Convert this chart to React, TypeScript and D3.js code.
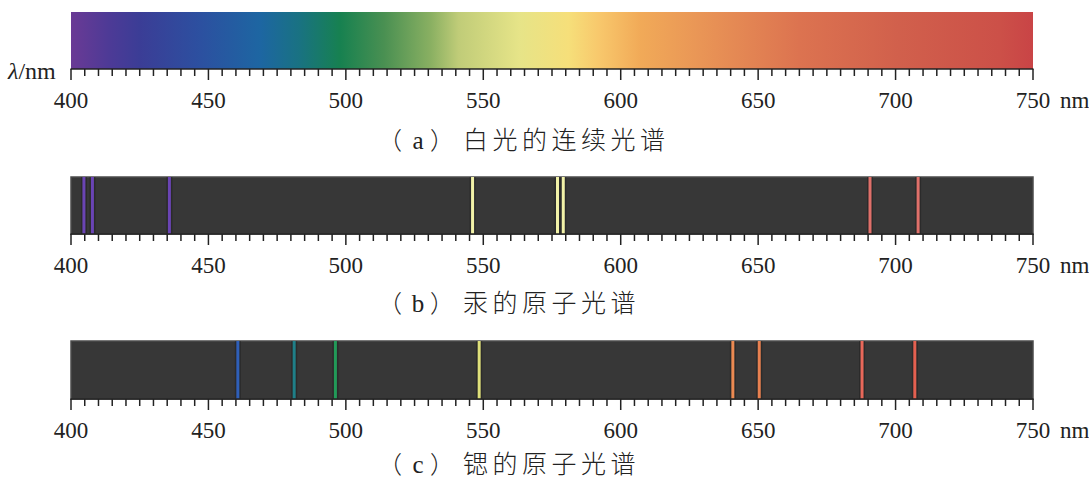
import React from "react";
import * as d3 from "d3";

const tickLabels = [400, 450, 500, 550, 600, 650, 700, 750];
const minorStep = 5;

// continuous spectrum colour stops (wavelength nm, colour)
const spectrumNm = [400, 414, 425, 447, 469, 483, 498, 514, 531, 541, 563, 581, 592, 607, 629, 665, 701, 738, 750];
const spectrumColors = ["#6a3a95", "#4d3a96", "#3b3d96", "#2c50a0", "#1d66a2", "#197282", "#178150", "#4a9052", "#8ab062", "#c0cc78", "#e6e488", "#f6df7a", "#f8c86c", "#f1aa58", "#e99556", "#dc7350", "#d1604c", "#cc5048", "#c94446"];

// mercury lines
const hgNm = [404.7, 407.8, 435.8, 546.1, 577.0, 579.1, 690.7, 708.2];
const hgColors = ["#6a44b4", "#6a44b4", "#6a44b4", "#f2f2a8", "#f2f2a8", "#f2f2a8", "#e0706a", "#e0706a"];

// strontium lines
const srNm = [460.7, 481.2, 496.2, 548.5, 640.8, 650.4, 687.8, 707.0];
const srColors = ["#2f5fb8", "#1f7f88", "#229a58", "#dfe07a", "#ec8a52", "#e88050", "#e8685a", "#e46050"];

const captionLetters = ["a", "b", "c"];
const captionTexts = ["白光的连续光谱", "汞的原子光谱", "锶的原子光谱"];

const W = 1089;
const H = 479;
const x = d3.scaleLinear().domain([400, 750]).range([71, 1033]);
const serif = "'Liberation Serif', 'Times New Roman', serif";
const cjk = "'Noto Sans CJK SC', sans-serif";

function Axis({ y }: { y: number }) {
  const minors = d3.range(400, 750 + 0.001, minorStep);
  return (
    <g>
      <line x1={x(400) - 0.5} x2={x(750) + 0.5} y1={y} y2={y} stroke="#222" strokeWidth={1.6} />
      {minors.map((v) => {
        const major = tickLabels.includes(v);
        return (
          <line key={v} x1={x(v)} x2={x(v)} y1={y} y2={y + (major ? 11 : 7)} stroke="#222" strokeWidth={1.5} />
        );
      })}
      {tickLabels.map((v) => (
        <text key={v} x={x(v)} y={y + 39} textAnchor="middle" fontFamily={serif} fontSize={23} fill="#222">
          {v}
        </text>
      ))}
      <text x={x(750) + 27} y={y + 39} fontFamily={serif} fontSize={23} fill="#222">nm</text>
    </g>
  );
}

function Caption({ y, i }: { y: number; i: number }) {
  return (
    <g fill="#222">
      <text x={378} y={y} fontFamily={cjk} fontSize={24} fontWeight={300}>（</text>
      <text x={418} y={y} fontFamily={serif} fontSize={25} textAnchor="middle">{captionLetters[i]}</text>
      <text x={430} y={y} fontFamily={cjk} fontSize={24} fontWeight={300}>）</text>
      <text x={463} y={y} fontFamily={cjk} fontSize={25} fontWeight={300} letterSpacing={4.5}>{captionTexts[i]}</text>
    </g>
  );
}

function LinePanel({ top, axisY, nm, colors, id }: { top: number; axisY: number; nm: number[]; colors: string[]; id: string }) {
  return (
    <g>
      <rect x={x(400)} y={top} width={x(750) - x(400)} height={axisY - top} fill="#373737" stroke="#4c4c4c" strokeWidth={1.5} />
      {nm.map((v, i) => (
        <g key={id + i}>
          <line x1={x(v)} x2={x(v)} y1={top} y2={axisY} stroke="#202020" strokeWidth={6} opacity={0.5} />
          <line x1={x(v)} x2={x(v)} y1={top} y2={axisY} stroke={colors[i]} strokeWidth={3} />
        </g>
      ))}
      <Axis y={axisY} />
    </g>
  );
}

export default function App() {
  const grad = spectrumNm.map((v, i) => ({ off: (v - 400) / 350, c: spectrumColors[i] }));
  return (
    <svg width={W} height={H} style={{ position: "absolute", left: 0, top: 0, background: "#fff" }}>
      <defs>
        <linearGradient id="spec" x1="0" x2="1" y1="0" y2="0">
          {grad.map((g, i) => (
            <stop key={i} offset={g.off} stopColor={g.c} />
          ))}
        </linearGradient>
      </defs>
      {/* panel a */}
      <rect x={x(400)} y={12} width={x(750) - x(400)} height={57} fill="url(#spec)" />
      <Axis y={69} />
      <text x={8} y={79} fontFamily={serif} fontSize={24} fill="#222">
        <tspan fontStyle="italic">λ</tspan>/nm
      </text>
      <Caption y={149} i={0} />
      {/* panel b */}
      <LinePanel top={177} axisY={234} nm={hgNm} colors={hgColors} id="hg" />
      <Caption y={312} i={1} />
      {/* panel c */}
      <LinePanel top={341} axisY={399} nm={srNm} colors={srColors} id="sr" />
      <Caption y={473} i={2} />
    </svg>
  );
}
